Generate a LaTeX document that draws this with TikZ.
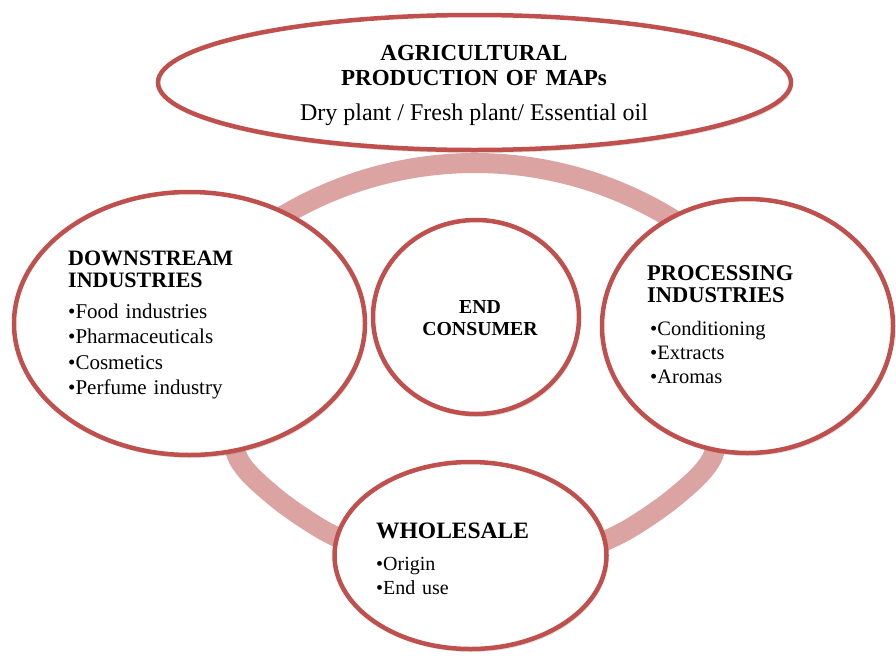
\documentclass[tikz,border=0pt]{standalone}
\usepackage{fontspec}
\setmainfont{Liberation Serif}
\usetikzlibrary{shapes.geometric,shadows}
\definecolor{stageRed}{RGB}{192,80,77}
\definecolor{ringPink}{RGB}{219,163,162}

\begin{document}
\begin{tikzpicture}[x=1pt,y=-1pt]
    \tikzset{stage/.style= {draw=stageRed, ellipse
    , line width=4.5pt
    , fill=white
    , inner sep=0pt
    , drop shadow={shadow xshift=1.5pt, shadow yshift=-3pt, opacity=0.25}
      }
    , heading/.style= {anchor=base west, inner sep=0pt
    , text width=260pt
    , align=left
    , font=\bfseries\fontsize{22}{22}\selectfont
      }
    , items/.style= {anchor=base west, inner sep=0pt
    , text width=260pt
    , align=left
    , font=\fontsize{21}{25.5}\selectfont
      }
    , ring/.style= {ringPink, line width=20pt}
    }
\useasboundingbox (0,0) rectangle (896,659);

\draw[ring] plot[domain=-250:250, samples=60] ({475+\x}, {539-100*sqrt(3.76*3.76-(\x/100)*(\x/100))});
\draw[ring] plot[smooth] coordinates {(222,390) (238,458) (275,497) (323,530) (370,552)};
\draw[ring] plot[smooth] coordinates {(728,390) (712,458) (675,497) (627,530) (580,552)};

\node[stage, minimum width=633pt, minimum height=135pt] (prod) at (474.5,82.5) {};
\node[stage, minimum width=351pt, minimum height=263pt] (down) at (189.5,323.5) {};
\node[stage, minimum width=291pt, minimum height=254pt] (proc) at (747.5,326) {};
\node[stage, minimum width=206pt, minimum height=194pt] (cons) at (476,317) {};
\node[stage, minimum width=272pt, minimum height=187pt] (whole) at (470.5,555.5) {};

\node[anchor=base, inner sep=0pt, text width=400pt, align=center
  , font=\bfseries\fontsize{23}{25}\selectfont] (prodHead) at (474,60) {AGRICULTURAL\\PRODUCTION OF MAPs};
\node[anchor=base, inner sep=0pt, font=\fontsize{24}{28}\selectfont] (prodText) at (474,120) {Dry plant / Fresh plant/ Essential oil};

\node[heading] (downHead) at (68,265) {DOWNSTREAM\\INDUSTRIES};
\node[items] (downList) at (68,318) {•Food industries\\•Pharmaceuticals\\•Cosmetics\\•Perfume industry};

\node[heading, font=\bfseries\fontsize{22.5}{22}\selectfont] (procHead) at (647,280) {PROCESSING\\INDUSTRIES};
\node[items, font=\fontsize{20.5}{24}\selectfont] (procList) at (650,335) {•Conditioning\\•Extracts\\•Aromas};

\node[anchor=base, inner sep=0pt, text width=150pt, align=center
  , font=\bfseries\fontsize{19.8}{22}\selectfont] (consText) at (480,313) {END\\CONSUMER};

\node[heading, font=\bfseries\fontsize{23.5}{26}\selectfont] (wholeHead) at (376,538) {WHOLESALE};
\node[items, font=\fontsize{20}{24}\selectfont] (wholeList) at (376,570) {•Origin\\•End use};
\end{tikzpicture}
\end{document}
